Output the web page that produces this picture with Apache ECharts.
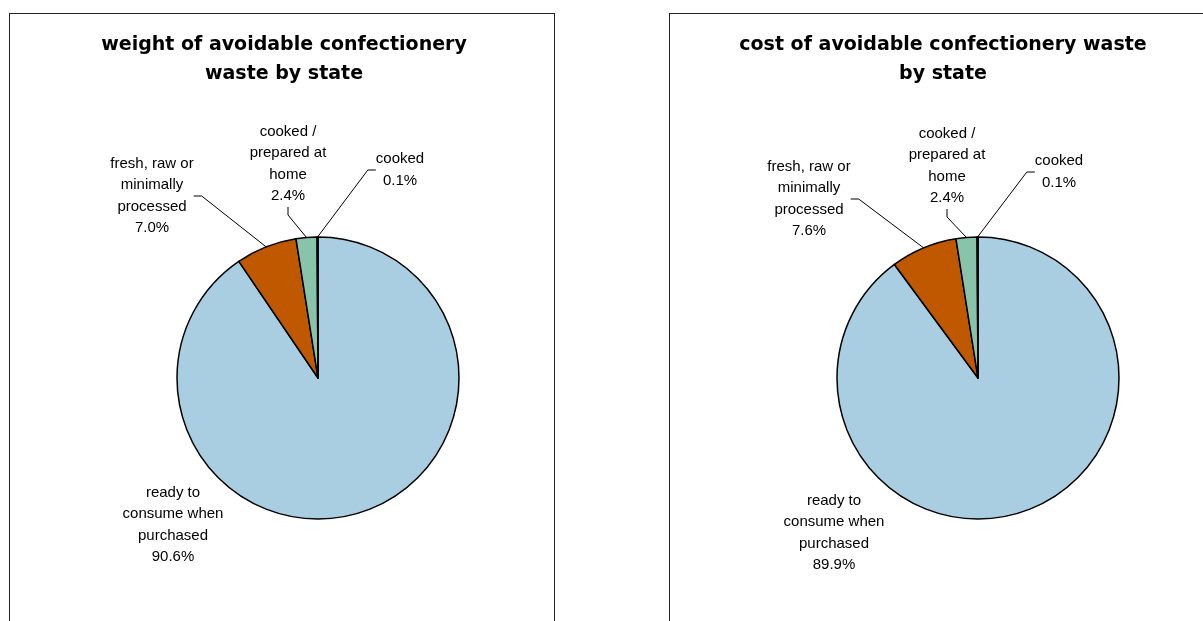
<!DOCTYPE html>
<html>
<head>
<meta charset="utf-8">
<script src="https://cdn.jsdelivr.net/npm/echarts@6/dist/echarts.min.js"></script>
<style>
  html, body { margin: 0; padding: 0; background: #fff; }
  body { width: 1203px; height: 621px; overflow: hidden; position: relative; }
  .panel { position: absolute; top: 13px; height: 700px; border: 1px solid #222; background: #fff; }
  #weightChart { left: 9px; width: 544px; }
  #costChart { left: 669px; width: 600px; }
</style>
</head>
<body>
<div id="weightChart" class="panel"></div>
<div id="costChart" class="panel"></div>
<script>
// categories (clockwise from 12 o'clock)
var categories = ['ready to consume when purchased', 'fresh, raw or minimally processed', 'cooked / prepared at home', 'cooked'];
var labelText = ['ready to\nconsume when\npurchased', 'fresh, raw or\nminimally\nprocessed', 'cooked /\nprepared at\nhome', 'cooked'];
var weightPct = [90.6, 7.0, 2.4, 0.1];
var costPct = [89.9, 7.6, 2.4, 0.1];
var colors = ['#A9CEE2', '#C05800', '#88C4AB', '#A9CEE2'];

// label centres, chart local pixels
var weightLabelPos = [[163, 511], [142, 182], [278, 150], [390, 156]];
var costLabelPos = [[164, 519], [139, 185], [277, 152], [389, 158]];

function initPie(domId, title, titleX, values, labelPos) {
    var chart = echarts.init(document.getElementById(domId));
    var data = categories.map(function(name, i) {
        return {
            name: name,
            value: values[i],
            itemStyle: { color: colors[i] },
            labelLine: { show: i > 0 }
        };
    });
    var option = {
        animation: false,
        title: {
            text: title,
            left: titleX,
            top: 12,
            textAlign: 'center',
            textStyle: {
                fontFamily: 'DejaVu Sans',
                fontWeight: 'bold',
                fontSize: 19,
                lineHeight: 29,
                color: '#000'
            }
        },
        series: [{
            type: 'pie',
            center: [308, 364],
            radius: [0, 141],
            startAngle: 90,
            clockwise: true,
            avoidLabelOverlap: false,
            itemStyle: { borderColor: '#000', borderWidth: 1.5 },
            label: {
                show: true,
                position: 'outside',
                fontFamily: 'Liberation Sans',
                fontSize: 15,
                lineHeight: 21.5,
                color: '#000',
                align: 'center',
                formatter: function(p) {
                    return labelText[p.dataIndex] + '\n' + p.value.toFixed(1) + '%';
                }
            },
            labelLine: {
                show: true,
                length: 10,
                length2: 8,
                lineStyle: { color: '#000', width: 1 }
            },
            labelLayout: function(params) {
                var pos = labelPos[params.dataIndex];
                return {
                    x: pos[0],
                    y: pos[1],
                    align: 'center',
                    verticalAlign: 'middle'
                };
            },
            data: data
        }]
    };
    chart.setOption(option);
    return chart;
}

initPie('weightChart', 'weight of avoidable confectionery\nwaste by state', 269, weightPct, weightLabelPos);
initPie('costChart', 'cost of avoidable confectionery waste\nby state', 268, costPct, costLabelPos);
</script>
</body>
</html>
